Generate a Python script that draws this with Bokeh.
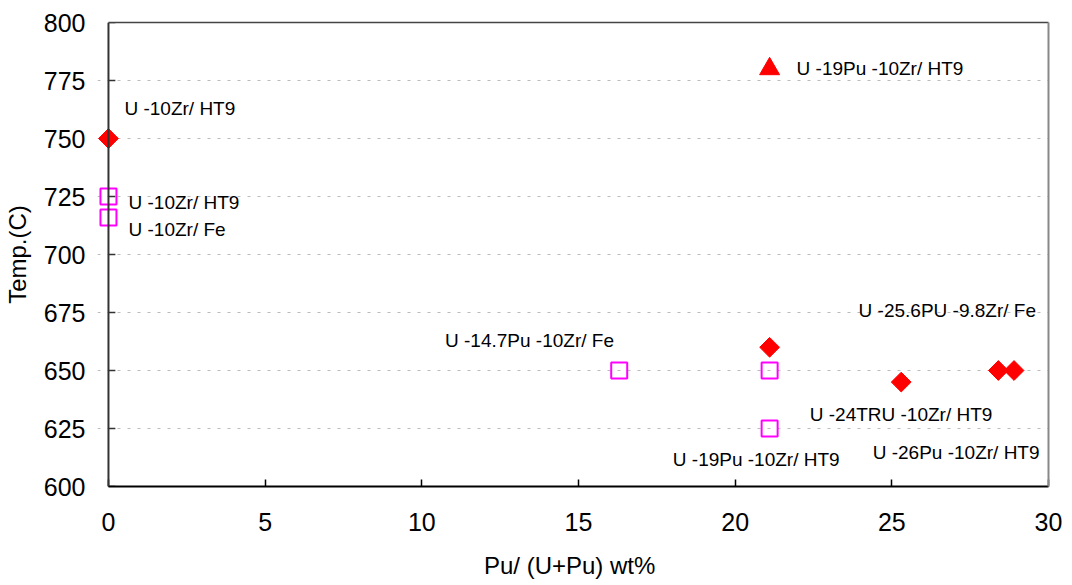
import numpy as np
from bokeh.plotting import figure
from bokeh.models import Range1d, SingleIntervalTicker, FixedTicker, ColumnDataSource, Span, LinearAxis
from bokeh.core.properties import value
from bokeh.embed import file_html
from bokeh.resources import INLINE

# red diamonds
diamond_x = [0.0, 21.1, 25.3, 28.4, 28.9]
diamond_y = [750, 660, 645, 650, 650]
# red triangle
triangle_x = [21.1]
triangle_y = [780]
# magenta hollow squares
square_x = [0.0, 0.0, 16.3, 21.1, 21.1]
square_y = [725, 716, 650, 650, 625]

label_text = ["U -10Zr/ HT9", "U -19Pu -10Zr/ HT9", "U -10Zr/ HT9", "U -10Zr/ Fe",
              "U -14.7Pu -10Zr/ Fe", "U -25.6PU -9.8Zr/ Fe", "U -24TRU -10Zr/ HT9",
              "U -19Pu -10Zr/ HT9", "U -26Pu -10Zr/ HT9"]
label_x = [0.51, 21.96, 0.64, 0.64, 10.74, 23.94, 22.38, 18.01, 24.39]
label_y = [762.9, 780.2, 722.4, 710.8, 662.9, 675.9, 631.0, 611.6, 614.6]

y_ticks = [600, 625, 650, 675, 700, 725, 750, 775, 800]
x_min, x_max = 0, 30
y_min, y_max = 600, 800

x_label = "Pu/ (U+Pu)  wt%"
y_label = "Temp.(C)"

FONT = "Liberation Sans"

p = figure(width=1064, height=581, output_backend="svg", toolbar_location=None,
           x_range=Range1d(-0.35, x_max), y_range=Range1d(y_min, y_max),
           min_border_left=96, min_border_right=16, min_border_top=22, min_border_bottom=95)

p.background_fill_color = "white"
p.outline_line_color = None

p.xaxis.ticker = SingleIntervalTicker(interval=5)
p.yaxis.ticker = FixedTicker(ticks=y_ticks)
p.xaxis.bounds = (x_min, x_max)

for ax in (p.xaxis, p.yaxis):
    ax.major_tick_in = 7
    ax.major_tick_out = 0
    ax.minor_tick_line_color = None
    ax.major_label_text_font = FONT
    ax.major_label_text_font_size = "25px"
    ax.major_label_text_color = "black"
    ax.axis_label_text_font = FONT
    ax.axis_label_text_font_style = "normal"
    ax.axis_label_text_color = "black"
    ax.axis_line_width = 2
    ax.major_tick_line_width = 1.5

p.xaxis.axis_label_text_font_size = "24px"
p.yaxis.axis_label_text_font_size = "24px"
p.xaxis.axis_line_color = "black"
# left axis: labels only, its line is drawn at x = 0 below
p.yaxis.axis_line_color = None
p.yaxis.major_tick_line_color = None
p.xaxis.major_label_standoff = 22
p.yaxis.major_label_standoff = 12
p.xaxis.axis_label = x_label
p.yaxis.axis_label = y_label
p.xaxis.axis_label_standoff = 18
p.yaxis.axis_label_standoff = 10

# top and right frame lines
top_axis = LinearAxis(ticker=FixedTicker(ticks=[]), bounds=(x_min, x_max),
                      axis_line_color="#444444", axis_line_width=1.5,
                      major_tick_line_color=None, minor_tick_line_color=None)
p.add_layout(top_axis, "above")
right_axis = LinearAxis(ticker=FixedTicker(ticks=[]),
                        axis_line_color="#888888", axis_line_width=2,
                        major_tick_line_color=None, minor_tick_line_color=None)
p.add_layout(right_axis, "right")

p.xgrid.grid_line_color = None
p.ygrid.ticker = FixedTicker(ticks=y_ticks[1:-1])
p.ygrid.grid_line_color = "#BBBBBB"
p.ygrid.grid_line_dash = "3 7"
p.ygrid.grid_line_width = 1

# y-axis line at x = 0 and inward ticks
p.add_layout(Span(location=x_min, dimension="height", line_color="#333333", line_width=2))
p.segment(x0=[x_min] * len(y_ticks), x1=[x_min + 0.22] * len(y_ticks), y0=y_ticks, y1=y_ticks,
          line_color="#333333", line_width=1.5)

p.scatter(square_x, square_y, marker="square", size=16, line_color="#FF00FF",
          line_width=2, fill_color=None)
p.scatter(diamond_x, diamond_y, marker="square", angle=np.pi / 4, size=14,
          line_color="#FF0000", fill_color="#FF0000")
p.scatter(triangle_x, triangle_y, marker="triangle", size=20,
          line_color="#FF0000", fill_color="#FF0000")

src = ColumnDataSource(dict(x=label_x, y=label_y, t=label_text))
p.text(x="x", y="y", text="t", source=src, text_font=value(FONT),
       text_font_size="19px", text_baseline="middle", text_align="left",
       text_color="black")

open("out.html", "w").write(file_html(p, INLINE))
